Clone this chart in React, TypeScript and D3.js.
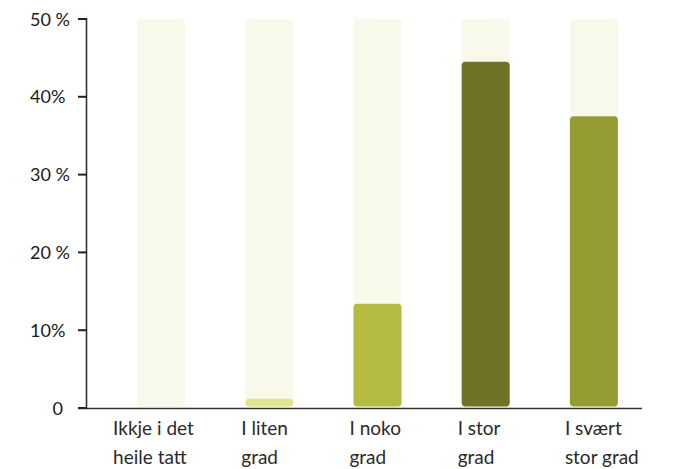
import React from "react";
import * as d3 from "d3";

const categories: string[][] = [
  ["Ikkje i det", "heile tatt"],
  ["I liten", "grad"],
  ["I noko", "grad"],
  ["I stor", "grad"],
  ["I svært", "stor grad"],
];
const values: number[] = [0, 1.2, 13.4, 44.5, 37.5];
const barColors: string[] = ["#e0e48e", "#e0e48e", "#b5ba40", "#6e7325", "#959c31"];
const yTicks: number[] = [0, 10, 20, 30, 40, 50];
const yTickLabels: string[] = ["0", "10%", "20 %", "30 %", "40%", "50 %"];
const maxValue = 50;

const W = 678;
const H = 469;
const FONT = "Lato, 'Open Sans', sans-serif";
const labelDx = [-24, -4, -4, -4, -5];

export default function App() {
  const x = d3
    .scaleBand<number>()
    .domain(d3.range(values.length))
    .range([107, 648])
    .paddingInner(0.556)
    .paddingOuter(0.278);
  const y = d3.scaleLinear().domain([0, maxValue]).range([408, 19]);
  const bw = x.bandwidth();

  return (
    <svg
      width={W}
      height={H}
      style={{ position: "absolute", left: 0, top: 0, background: "#fff" }}
    >
      {values.map((v, i) => (
        <rect
          key={"bg" + i}
          x={x(i)}
          y={y(maxValue)}
          width={bw}
          height={y(0) - y(maxValue) - 1}
          rx={4}
          fill="#f8f9ea"
        />
      ))}
      {values.map((v, i) =>
        v > 0 ? (
          <rect
            key={"b" + i}
            x={x(i)}
            y={y(v)}
            width={bw}
            height={Math.max(y(0) - y(v) - 1.5, 7)}
            rx={4}
            fill={barColors[i]}
          />
        ) : null
      )}
      <line x1={86.5} x2={86.5} y1={18} y2={409} stroke="#333" strokeWidth={1.6} />
      <line x1={78} x2={642} y1={408.5} y2={408.5} stroke="#333" strokeWidth={1.6} />
      {yTicks.map((t, i) => (
        <g key={"t" + i}>
          <line x1={78} x2={87} y1={y(t)} y2={y(t)} stroke="#222" strokeWidth={2} />
          <text
            x={t === 0 ? 63 : 30}
            y={y(t) + 6.5}
            textAnchor={t === 0 ? "end" : "start"}
            fontFamily={FONT}
            fontSize={18}
            fill="#1a1a1a"
          >
            {yTickLabels[i]}
          </text>
        </g>
      ))}
      {categories.map((lines, i) => (
        <text
          key={"c" + i}
          x={(x(i) as number) + labelDx[i]}
          y={435}
          fontFamily={FONT}
          fontSize={19}
          fill="#2a2a2a"
        >
          {lines.map((l, j) => (
            <tspan key={j} x={(x(i) as number) + labelDx[i]} dy={j === 0 ? 0 : 29}>
              {l}
            </tspan>
          ))}
        </text>
      ))}
    </svg>
  );
}
